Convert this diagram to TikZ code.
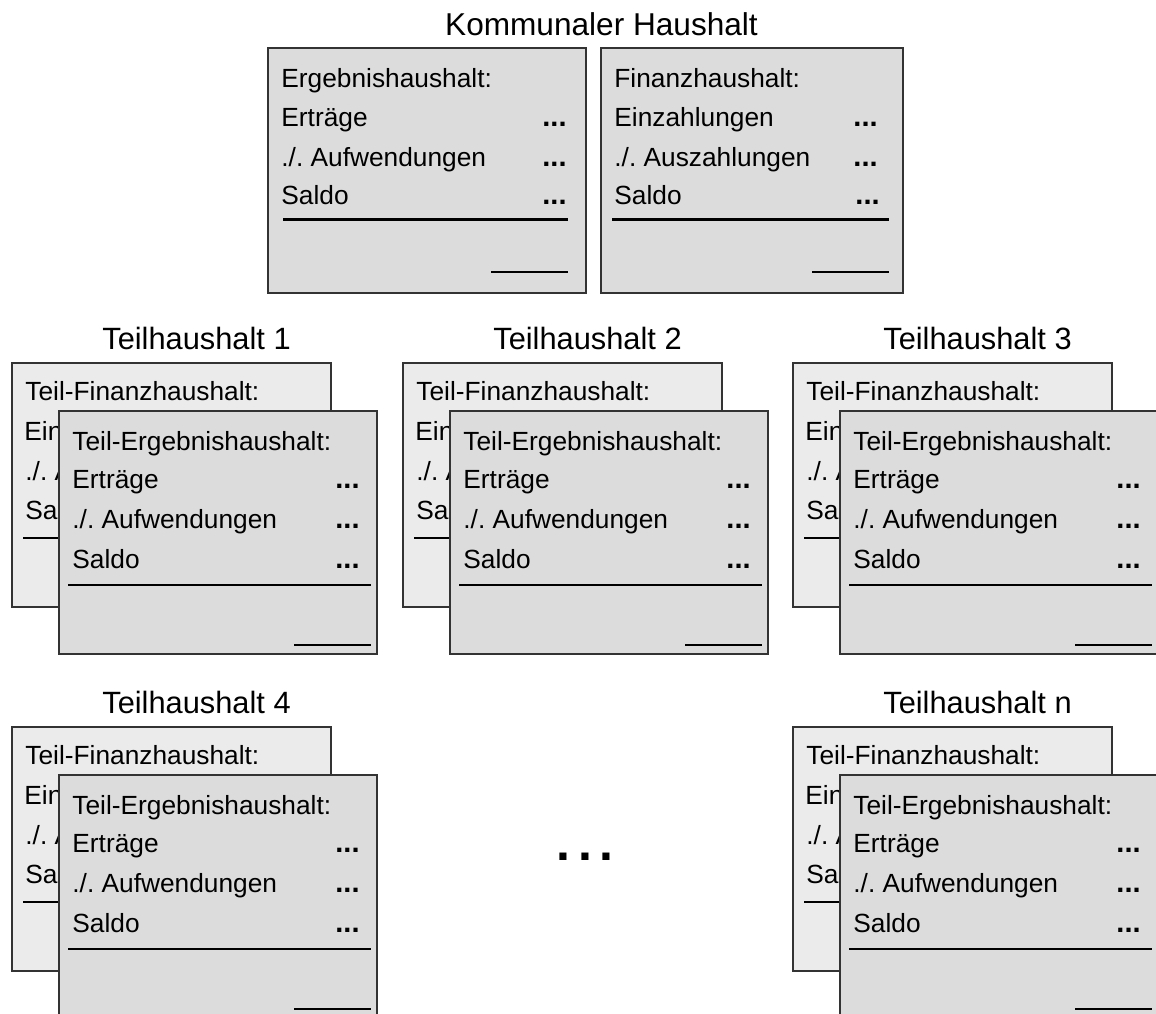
\documentclass[tikz,border=0pt]{standalone}
\usepackage{fontspec}
\setmainfont{Liberation Sans}
\definecolor{boxline}{HTML}{333333}
\definecolor{backfill}{HTML}{EBEBEB}
\definecolor{frontfill}{HTML}{DCDCDC}
\tikzset{
  haushaltbox/.style={draw=boxline, line width=1pt, inner sep=0pt, outer sep=0pt, anchor=north west},
  entry/.style={anchor=base west, inner sep=0pt},
  amount/.style={anchor=base east, inner sep=0pt, font=\fontsize{14.5}{17}\selectfont\bfseries},
  sumline/.style={line width=1.1pt},
  caption/.style={anchor=base, inner sep=0pt}
}
\begin{document}
\frenchspacing
\begin{tikzpicture}[x=0.5pt, y=-0.5pt, font=\fontsize{13.15}{16}\selectfont]
  \useasboundingbox (0,0) rectangle (1156,1013);
  \clip (0,0) rectangle (1156,1013);

  % Kommunaler Haushalt
  \node [caption, font=\fontsize{15.8}{19}\selectfont] (kh) at (601.5,35) {Kommunaler Haushalt};
  \node [haushaltbox, fill=frontfill, minimum width=159pt, minimum height=122.5pt] (erg) at (268,48) {};
  \node [haushaltbox, fill=frontfill, minimum width=151pt, minimum height=122.5pt] (fin) at (601,48) {};
  \node [entry] (erg-head) at ([shift={(13,39)}]erg.north west) {Ergebnishaushalt:};
  \node [entry] (erg-a) at ([shift={(13,78)}]erg.north west) {Erträge};
  \node [entry] (erg-b) at ([shift={(13,118)}]erg.north west) {./. Aufwendungen};
  \node [entry] (erg-c) at ([shift={(13,156)}]erg.north west) {Saldo};
  \node [amount] (erg-da) at ([shift={(-19,78)}]erg.north east) {...};
  \node [amount] (erg-db) at ([shift={(-19,118)}]erg.north east) {...};
  \node [amount] (erg-dc) at ([shift={(-19,156)}]erg.north east) {...};
  \node [entry] (fin-head) at ([shift={(13,39)}]fin.north west) {Finanzhaushalt:};
  \node [entry] (fin-a) at ([shift={(13,78)}]fin.north west) {Einzahlungen};
  \node [entry] (fin-b) at ([shift={(13,118)}]fin.north west) {./. Auszahlungen};
  \node [entry] (fin-c) at ([shift={(13,156)}]fin.north west) {Saldo};
  \node [amount] (fin-da) at ([shift={(-25,78)}]fin.north east) {...};
  \node [amount] (fin-db) at ([shift={(-25,118)}]fin.north east) {...};
  \node [amount] (fin-dc) at ([shift={(-23,156)}]fin.north east) {...};
  \draw [sumline] ([shift={(15,171.5)}]erg.north west) -- ([shift={(-18,171.5)}]erg.north east);
  \draw [sumline] ([shift={(-95,224)}]erg.north east) -- ([shift={(-18,224)}]erg.north east);
  \draw [sumline] ([shift={(11,171.5)}]fin.north west) -- ([shift={(-14,171.5)}]fin.north east);
  \draw [sumline] ([shift={(-91,224)}]fin.north east) -- ([shift={(-14,224)}]fin.north east);

  % Teilhaushalte
  \foreach \ox/\oy/\num [count=\i] in {12/363/1, 403/363/2, 793/363/3, 12/727/4, 793/727/n} {
    \node [haushaltbox, fill=backfill, minimum width=159.5pt, minimum height=122pt] (tfh\i) at (\ox,\oy) {};
    \node [caption, font=\fontsize{15.4}{18}\selectfont] (tht\i) at ([shift={(184.5,-13.5)}]tfh\i.north west) {Teilhaushalt \num};
    \node [entry] (tfh\i-head) at ([shift={(13,37)}]tfh\i.north west) {Teil-Finanzhaushalt:};
    \node [entry] (tfh\i-a) at ([shift={(12,77)}]tfh\i.north west) {Ein};
    \node [entry] (tfh\i-b) at ([shift={(13,117)}]tfh\i.north west) {./. A};
    \node [entry] (tfh\i-c) at ([shift={(13,156)}]tfh\i.north west) {Sal};
    \draw [sumline] ([shift={(11,175)}]tfh\i.north west) -- ++(297,0);
    \node [haushaltbox, fill=frontfill, minimum width=159pt, minimum height=121.5pt] (teh\i) at ([shift={(47,48)}]tfh\i.north west) {};
    \node [entry] (teh\i-head) at ([shift={(13,39)}]teh\i.north west) {Teil-Ergebnishaushalt:};
    \node [entry] (teh\i-a) at ([shift={(13,77)}]teh\i.north west) {Erträge};
    \node [entry] (teh\i-b) at ([shift={(13,117)}]teh\i.north west) {./. Aufwendungen};
    \node [entry] (teh\i-c) at ([shift={(13,157)}]teh\i.north west) {Saldo};
    \node [amount] (teh\i-da) at ([shift={(-17,77)}]teh\i.north east) {...};
    \node [amount] (teh\i-db) at ([shift={(-17,117)}]teh\i.north east) {...};
    \node [amount] (teh\i-dc) at ([shift={(-17,157)}]teh\i.north east) {...};
    \draw [sumline] ([shift={(9,174)}]teh\i.north west) -- ([shift={(-6,174)}]teh\i.north east);
    \draw [sumline] ([shift={(-83,234)}]teh\i.north east) -- ([shift={(-6,234)}]teh\i.north east);
  }

  % weitere Teilhaushalte
  \node [caption, font=\fontsize{25}{25}\selectfont\bfseries] (more) at (585,860.5) {.\hspace{4pt}.\hspace{4pt}.};
\end{tikzpicture}
\end{document}
